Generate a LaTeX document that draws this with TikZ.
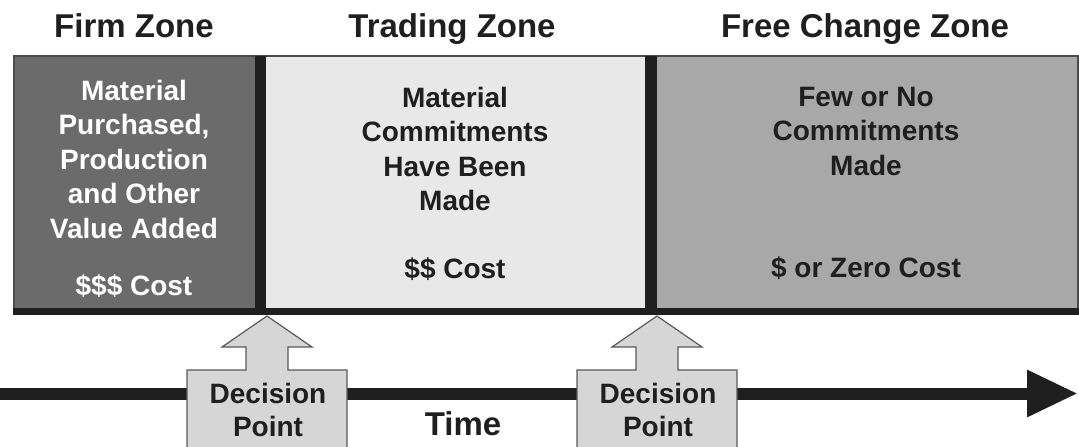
\documentclass[tikz,border=0pt]{standalone}
\usepackage{fontspec}
\setmainfont{Liberation Sans}
\usetikzlibrary{arrows.meta}
\definecolor{dk}{rgb}{.12,.12,.12}
\definecolor{firmgray}{rgb}{.42,.42,.42}
\definecolor{tradegray}{rgb}{.91,.91,.91}
\definecolor{freegray}{rgb}{.66,.66,.66}
\definecolor{dpgray}{rgb}{.84,.84,.84}
\tikzstyle{zone}=[draw=none, inner sep=0, outer sep=0, anchor=north west, minimum height=255pt]
\tikzstyle{title}=[font=\bfseries\fontsize{33}{36}\selectfont, text=dk, anchor=base, inner sep=0]
\tikzstyle{body}=[font=\bfseries\fontsize{28}{34.5}\selectfont, align=center, text=dk, inner sep=0]
\tikzstyle{divider}=[line width=11.5pt, dk]
\tikzstyle{dpshape}=[fill=dpgray, draw=black!65, line width=1.2pt, line join=miter]

\begin{document}
\begin{tikzpicture}[x=1pt, y=-1pt]
  \useasboundingbox (0,0) rectangle (1079,447);

  % zones
  \node[zone, fill=firmgray, minimum width=246.5pt] (firm) at (14,56) {};
  \node[zone, fill=tradegray, minimum width=390.5pt] (trading) at (firm.north east) {};
  \node[zone, fill=freegray, minimum width=427pt] (free) at (trading.north east) {};

  \draw[black!70, line width=1.2pt] (firm.south west) -- (firm.north west)
    -- (free.north east) -- (free.south east);
  \draw[divider] (firm.north east) -- (firm.south east);
  \draw[divider] (trading.north east) -- (trading.south east);
  \draw[line width=7pt, dk] ([xshift=-1pt]firm.south west) -- ([xshift=1pt]free.south east);

  % titles
  \node[title] (firmtitle) at (134,37) {Firm Zone};
  \node[title] (tradetitle) at (452,37) {Trading Zone};
  \node[title] (freetitle) at (865,37) {Free Change Zone};

  % zone texts
  \node[body, text=white, anchor=north] (firmtext) at (134,80)
    {Material\\Purchased,\\Production\\and Other\\Value Added};
  \node[body, text=white, anchor=base] (firmcost) at (134,295) {\$\$\$ Cost};

  \node[body, anchor=north] (tradetext) at (455,87)
    {Material\\Commitments\\Have Been\\Made};
  \node[body, anchor=base] (tradecost) at (455,278) {\$\$ Cost};

  \node[body, anchor=north] (freetext) at (866,87)
    {Few or No\\Commitments\\Made};
  \node[body, anchor=base] (freecost) at (866,277) {\$ or Zero Cost};

  % time axis
  \coordinate (tstart) at (0,393.5);
  \coordinate (tend) at (1078,393.5);
  \draw[line width=12pt, dk, -{Triangle[length=51pt, width=44pt]}] (tstart) -- (tend);
  \node[title] (time) at (463,435) {Time};

  % decision points
  \foreach \cx/\nm in {267/dpa, 657/dpb}{
    \draw[dpshape] (\cx,316) -- ({\cx+45},347) -- ({\cx+21},347) -- ({\cx+21},370)
      -- ({\cx+80},370) -- ({\cx+80},460) -- ({\cx-80},460) -- ({\cx-80},370)
      -- ({\cx-21},370) -- ({\cx-21},347) -- ({\cx-45},347) -- cycle;
    \node[body, font=\bfseries\fontsize{28}{33}\selectfont, anchor=north] (\nm) at ({\cx+1},383) {Decision\\Point};
  }

\end{tikzpicture}
\end{document}
